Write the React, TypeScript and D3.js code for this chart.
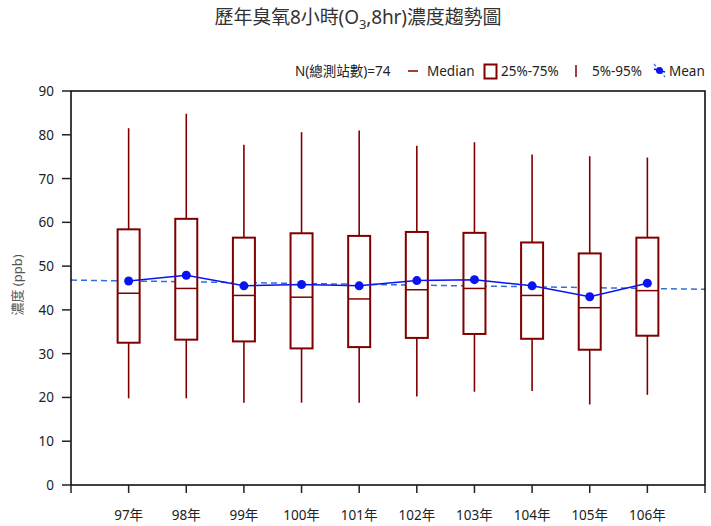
import React from "react";
import * as d3 from "d3";

const categories = ["97年", "98年", "99年", "100年", "101年", "102年", "103年", "104年", "105年", "106年"];
const p95 = [81.5, 84.8, 77.7, 80.6, 81.0, 77.5, 78.3, 75.5, 75.1, 74.8];
const q3 = [58.4, 60.8, 56.5, 57.5, 56.9, 57.8, 57.6, 55.4, 52.9, 56.5];
const medians = [43.8, 44.9, 43.3, 42.9, 42.5, 44.6, 44.9, 43.3, 40.5, 44.4];
const q1 = [32.5, 33.2, 32.8, 31.2, 31.5, 33.6, 34.5, 33.4, 30.9, 34.1];
const p5 = [19.8, 19.8, 18.8, 18.8, 18.8, 20.2, 21.3, 21.5, 18.4, 20.6];
const means = [46.6, 47.9, 45.5, 45.8, 45.5, 46.7, 46.9, 45.5, 43.0, 46.1];
const trendEnds = [46.8, 44.7];
const yTicks = [0, 10, 20, 30, 40, 50, 60, 70, 80, 90];

const W = 711, H = 526;
const M = { left: 71, right: 6, top: 91, bottom: 41 };
const FONT = "'Noto Sans', 'Noto Sans CJK TC', sans-serif";
const RED = "#800000";
const BLUE = "#0a14f0";

export default function App() {
  const x = d3.scaleLinear().domain([0, categories.length + 1]).range([M.left, W - M.right]);
  const y = d3.scaleLinear().domain([0, 90]).range([H - M.bottom, M.top]);
  const bw = 22;
  const meanLine = d3.line<number>().x((_, i) => x(i + 1)).y((d) => y(d));
  const xTickIdx = d3.range(0, categories.length + 2);

  return (
    <svg width={W} height={H} style={{ position: "absolute", left: 0, top: 0, background: "#fff" }} fontFamily={FONT}>
      <text x={358} y={24} textAnchor="middle" fontSize={19} fill="#333" textLength={287} lengthAdjust="spacing">
        歷年臭氧8小時(O<tspan fontSize={13} dy={5}>3</tspan><tspan dy={-5}>,8hr)濃度趨勢圖</tspan>
      </text>

      {/* legend */}
      <g fontSize={13.5} fill="#222">
        <text x={295} y={76}>N(總測站數)=74</text>
        <line x1={408} x2={418} y1={71} y2={71} stroke={RED} strokeWidth={1.5} />
        <text x={427} y={76}>Median</text>
        <rect x={484.5} y={64.5} width={12} height={14} fill="#fff" stroke={RED} strokeWidth={2} />
        <text x={501} y={76}>25%-75%</text>
        <line x1={576} x2={576} y1={65} y2={77} stroke={RED} strokeWidth={1.5} />
        <text x={592} y={76}>5%-95%</text>
        <line x1={654} x2={665} y1={64} y2={77} stroke="#2f6fd6" strokeWidth={1.2} strokeDasharray="3,2" />
        <line x1={654} x2={665} y1={69} y2={72} stroke={BLUE} strokeWidth={1.5} />
        <circle cx={659.5} cy={70.5} r={3.5} fill={BLUE} />
        <text x={669} y={76}>Mean</text>
      </g>

      {/* trend */}
      <line x1={x(0)} x2={x(categories.length + 1)} y1={y(trendEnds[0])} y2={y(trendEnds[1])}
        stroke="#2f6fd6" strokeWidth={1.5} strokeDasharray="6,4" />

      {/* boxes */}
      {categories.map((c, i) => {
        const cx = x(i + 1);
        return (
          <g key={c}>
            <line x1={cx} x2={cx} y1={y(p95[i])} y2={y(q3[i])} stroke={RED} strokeWidth={1.6} />
            <line x1={cx} x2={cx} y1={y(q1[i])} y2={y(p5[i])} stroke={RED} strokeWidth={1.6} />
            <rect x={cx - bw / 2} y={y(q3[i])} width={bw} height={y(q1[i]) - y(q3[i])} fill="#fff" stroke={RED} strokeWidth={2} />
            <line x1={cx - bw / 2} x2={cx + bw / 2} y1={y(medians[i])} y2={y(medians[i])} stroke={RED} strokeWidth={1.5} />
          </g>
        );
      })}

      {/* mean */}
      <path d={meanLine(means) || ""} fill="none" stroke={BLUE} strokeWidth={1.5} />
      {means.map((m, i) => (
        <circle key={i} cx={x(i + 1)} cy={y(m)} r={4.5} fill={BLUE} />
      ))}

      {/* frame */}
      <rect x={M.left} y={M.top} width={W - M.right - M.left} height={H - M.bottom - M.top} fill="none" stroke="#000" strokeWidth={1.5} />

      {/* y axis */}
      <g fontSize={13.5} fill="#222">
        {yTicks.map((t) => (
          <g key={t}>
            <line x1={M.left - 9} x2={M.left} y1={y(t)} y2={y(t)} stroke="#222" strokeWidth={1.5} />
            <text x={M.left - 17} y={y(t) + 5} textAnchor="end">{t}</text>
          </g>
        ))}
      </g>
      <text transform={`translate(22,285) rotate(-90)`} textAnchor="middle" fontSize={13} fill="#555">濃度 (ppb)</text>

      {/* x axis */}
      <g fontSize={13.5} fill="#222">
        {xTickIdx.map((t) => (
          <line key={t} x1={x(t)} x2={x(t)} y1={H - M.bottom} y2={H - M.bottom + 8} stroke="#222" strokeWidth={1.5} />
        ))}
        {categories.map((c, i) => (
          <text key={c} x={x(i + 1)} y={520} textAnchor="middle">{c}</text>
        ))}
      </g>
    </svg>
  );
}
